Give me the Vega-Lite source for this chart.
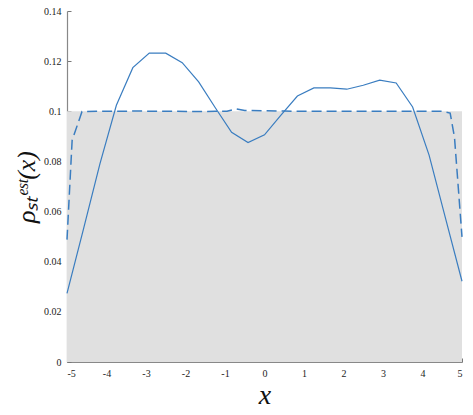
{
  "$schema": "https://vega.github.io/schema/vega-lite/v6.json",
  "width": 395,
  "height": 351,
  "autosize": "none",
  "padding": {"left": 67, "top": 11, "right": 11, "bottom": 53},
  "background": "white",
  "config": {"view": {"stroke": null}, "font": "Liberation Serif"},
  "datasets": {
    "band": [{"x": -5, "y": 0.1}, {"x": 5, "y": 0.1}],
    "est": [
      {"x": -5, "y": 0.0274}, {"x": -4.5833, "y": 0.053}, {"x": -4.1667, "y": 0.079},
      {"x": -3.75, "y": 0.1024}, {"x": -3.3333, "y": 0.1174}, {"x": -2.9167, "y": 0.1232},
      {"x": -2.5, "y": 0.1232}, {"x": -2.0833, "y": 0.1194}, {"x": -1.6667, "y": 0.1117},
      {"x": -1.25, "y": 0.1015}, {"x": -0.8333, "y": 0.0916}, {"x": -0.4167, "y": 0.0875},
      {"x": 0, "y": 0.0906}, {"x": 0.4167, "y": 0.0985}, {"x": 0.8333, "y": 0.1061},
      {"x": 1.25, "y": 0.1093}, {"x": 1.6667, "y": 0.1093}, {"x": 2.0833, "y": 0.1088},
      {"x": 2.5, "y": 0.1104}, {"x": 2.9167, "y": 0.1124}, {"x": 3.3333, "y": 0.1113},
      {"x": 3.75, "y": 0.1017}, {"x": 4.1667, "y": 0.0825}, {"x": 4.5833, "y": 0.0573},
      {"x": 5, "y": 0.0322}
    ],
    "fine": [
      {"x": -5, "y": 0.0488}, {"x": -4.87, "y": 0.0884}, {"x": -4.62, "y": 0.0999},
      {"x": -4.25, "y": 0.1}, {"x": -3.75, "y": 0.1}, {"x": -3.25, "y": 0.1001},
      {"x": -2.75, "y": 0.1}, {"x": -2.25, "y": 0.1}, {"x": -1.75, "y": 0.0999},
      {"x": -1.25, "y": 0.1}, {"x": -0.95, "y": 0.1}, {"x": -0.72, "y": 0.101},
      {"x": -0.5, "y": 0.1003}, {"x": 0, "y": 0.1002}, {"x": 0.5, "y": 0.1001},
      {"x": 1, "y": 0.1}, {"x": 1.5, "y": 0.1}, {"x": 2, "y": 0.1}, {"x": 2.5, "y": 0.1},
      {"x": 3, "y": 0.1}, {"x": 3.5, "y": 0.1}, {"x": 4, "y": 0.1}, {"x": 4.5, "y": 0.1},
      {"x": 4.7, "y": 0.0993}, {"x": 4.81, "y": 0.0896}, {"x": 5, "y": 0.0499}
    ]
  },
  "encoding": {
    "x": {
      "field": "x", "type": "quantitative",
      "scale": {"domain": [-5, 5], "nice": false, "zero": false},
      "axis": {
        "values": [-5, -4, -3, -2, -1, 0, 1, 2, 3, 4, 5],
        "labelExpr": "'' + datum.value",
        "title": "x",
        "titleFontStyle": "italic", "titleFontWeight": "normal",
        "titleFontSize": 28, "titleColor": "#111", "titlePadding": 3,
        "labelFontSize": 10, "labelColor": "#222",
        "labelPadding": 10, "tickSize": -4, "tickColor": "#777", "domainColor": "#888",
        "domainWidth": 1.2, "grid": false
      }
    },
    "y": {
      "field": "y", "type": "quantitative",
      "scale": {"domain": [0, 0.14], "nice": false},
      "axis": {
        "values": [0, 0.02, 0.04, 0.06, 0.08, 0.1, 0.12, 0.14],
        "format": "~g",
        "title": "ρₛₜᵉˢᵗ(x)",
        "titleFontStyle": "italic", "titleFontWeight": "normal",
        "titleFontSize": 26, "titleColor": "#111", "titlePadding": 4,
        "labelFontSize": 10, "labelColor": "#222",
        "labelPadding": 10, "tickSize": -4, "tickColor": "#777", "domainColor": "#888",
        "domainWidth": 1.2, "grid": false
      }
    }
  },
  "layer": [
    {"data": {"name": "band"}, "mark": {"type": "area", "color": "#e0e0e0", "opacity": 1}},
    {"data": {"name": "fine"}, "mark": {"type": "line", "color": "#3a7dc0", "strokeWidth": 1.5, "strokeDash": [10, 5]}},
    {"data": {"name": "est"}, "mark": {"type": "line", "color": "#3a7dc0", "strokeWidth": 1.2}}
  ]
}
